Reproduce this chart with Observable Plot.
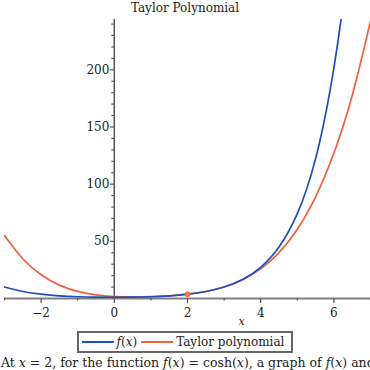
<!DOCTYPE html>
<html><head><meta charset="utf-8">
<script src="https://cdn.jsdelivr.net/npm/d3@7"></script>
<script src="https://cdn.jsdelivr.net/npm/@observablehq/plot@0.6"></script>
<style>
body{margin:0;background:#fff;font-family:"DejaVu Serif",serif;width:370px;height:370px;overflow:hidden;color:#222}
#title{height:16px;line-height:16px;text-align:center;font-size:12px}
#chart svg{display:block}
#legend{display:flex;align-items:center;width:fit-content;margin:2px auto 0;border:2px solid #666;height:18px;padding:0 3px;font-size:12px}
#legend .sw{display:inline-block;width:32px;height:2px}
#legend .lab{margin:0 4px 0 3px}
#caption{white-space:nowrap;font-size:12.5px;margin:2px 0 0 1px;line-height:15px}
</style></head><body>
<div id="title">Taylor Polynomial</div>
<div id="chart"></div>
<div id="legend"><span class="sw" style="background:#1a4fc0"></span><span class="lab"><i>f</i>(<i>x</i>)</span><span class="sw" style="background:#f0603c"></span><span class="lab">Taylor polynomial</span></div>
<div id="caption">At <i>x</i> = 2, for the function <i>f</i>(<i>x</i>) = cosh(<i>x</i>), a graph of <i>f</i>(<i>x</i>) and its Taylor polynomial of degree 4.</div>
<script>
const xValues = [-3,-2.5,-2,-1.5,-1,-0.5,0,0.5,1,1.5,2,2.5,3,3.5,4,4.5,5,5.5,6,6.5,7];
const fValues = [10.07,6.13,3.76,2.35,1.54,1.13,1.00,1.13,1.54,2.35,3.76,6.13,10.07,16.57,27.31,45.01,74.21,122.35,201.72,332.57,548.32];
const taylorValues = [55.07,34.73,20.80,11.72,6.19,3.13,1.70,1.31,1.57,2.35,3.76,6.13,10.03,16.27,25.88,40.15,60.59,88.94,127.18,177.53,242.45];
const centerX = [2];
const centerY = [3.76];
const xMajorTicks = [-2,0,2,4,6];
const xMinorTicks = [-3,-1,1,3,5,7];
const yMajorTicks = [50,100,150,200];
const yMinorTicks = [10,20,30,40,60,70,80,90,110,120,130,140,160,170,180,190,210,220,230,240];

const fData = xValues.map((x,i)=>({x, y:fValues[i]}));
const tData = xValues.map((x,i)=>({x, y:taylorValues[i]}));
const pt = centerX.map((x,i)=>({x, y:centerY[i]}));
const serif = "DejaVu Serif";

const chart = Plot.plot({
  width: 370, height: 313,
  marginLeft: 4, marginRight: 0, marginTop: 3, marginBottom: 31,
  x: {domain: [-3, 7], axis: null},
  y: {domain: [0, 244], axis: null},
  style: {fontFamily: serif, fontSize: "11.5px", color: "#222", background: "white"},
  marks: [
    Plot.ruleY([0], {stroke: "#808080", strokeWidth: 2}),
    Plot.ruleX([0], {stroke: "#555", strokeWidth: 1.5}),
    Plot.ruleX(xMajorTicks, {y1: 0, y2: 0, insetBottom: -5, stroke: "#555", strokeWidth: 1.2}),
    Plot.ruleX(xMinorTicks, {y1: 0, y2: 0, insetBottom: -2.5, stroke: "#555", strokeWidth: 1.2}),
    Plot.ruleY(yMajorTicks, {x1: 0, x2: 0, insetLeft: -4, stroke: "#555", strokeWidth: 1.2}),
    Plot.ruleY(yMinorTicks, {x1: 0, x2: 0, insetLeft: -2.5, stroke: "#555", strokeWidth: 1.2}),
    Plot.text(xMajorTicks, {x: d=>d, y: 0, text: d=>d<0?"\u2212"+Math.abs(d):String(d), dy: 15, fontSize: 12, fill: "#222"}),
    Plot.text(yMajorTicks, {x: 0, y: d=>d, text: d=>String(d), textAnchor: "end", dx: -5, fontSize: 12, fill: "#222"}),
    Plot.text(["x"], {frameAnchor: "bottom", text: d=>d, dx: 54, dy: 26, fontStyle: "italic", fontSize: 11, fill: "#222"}),
    Plot.line(tData, {x: "x", y: "y", stroke: "#f0603c", strokeWidth: 1.7, curve: "natural", clip: true}),
    Plot.line(fData, {x: "x", y: "y", stroke: "#1a4fc0", strokeWidth: 1.7, curve: "natural", clip: true}),
    Plot.dot(pt, {x: "x", y: "y", r: 2.5, fill: "#f08060", stroke: "#f0603c", strokeWidth: 1})
  ]
});
document.getElementById("chart").appendChild(chart);
</script>
</body></html>
